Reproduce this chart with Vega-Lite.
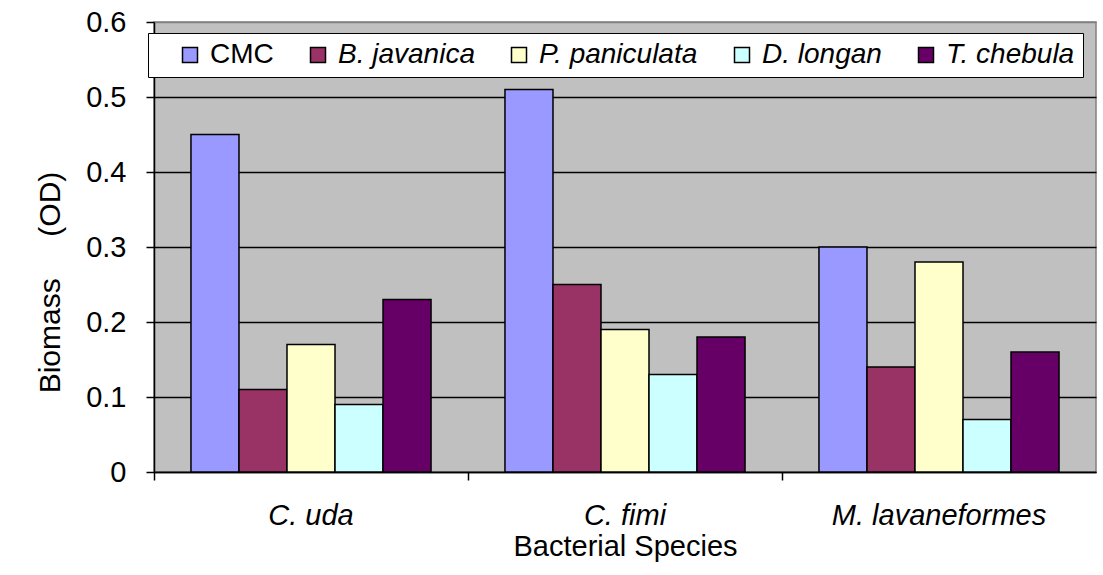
{
  "$schema": "https://vega.github.io/schema/vega-lite/v6.json",
  "width": 942,
  "height": 450,
  "autosize": "none",
  "padding": {"left": 154, "top": 22, "right": 7, "bottom": 103},
  "background": "white",
  "data": {
    "values": [
      {"species": "C. uda", "extract": "CMC", "biomass": 0.45},
      {"species": "C. uda", "extract": "B. javanica", "biomass": 0.11},
      {"species": "C. uda", "extract": "P. paniculata", "biomass": 0.17},
      {"species": "C. uda", "extract": "D. longan", "biomass": 0.09},
      {"species": "C. uda", "extract": "T. chebula", "biomass": 0.23},
      {"species": "C. fimi", "extract": "CMC", "biomass": 0.51},
      {"species": "C. fimi", "extract": "B. javanica", "biomass": 0.25},
      {"species": "C. fimi", "extract": "P. paniculata", "biomass": 0.19},
      {"species": "C. fimi", "extract": "D. longan", "biomass": 0.13},
      {"species": "C. fimi", "extract": "T. chebula", "biomass": 0.18},
      {"species": "M. lavaneformes", "extract": "CMC", "biomass": 0.30},
      {"species": "M. lavaneformes", "extract": "B. javanica", "biomass": 0.14},
      {"species": "M. lavaneformes", "extract": "P. paniculata", "biomass": 0.28},
      {"species": "M. lavaneformes", "extract": "D. longan", "biomass": 0.07},
      {"species": "M. lavaneformes", "extract": "T. chebula", "biomass": 0.16}
    ]
  },
  "mark": {"type": "bar", "stroke": "black", "strokeWidth": 1.5},
  "encoding": {
    "x": {
      "field": "species",
      "type": "nominal",
      "sort": ["C. uda", "C. fimi", "M. lavaneformes"],
      "scale": {"paddingInner": 0, "paddingOuter": 0},
      "axis": {
        "title": "Bacterial Species",
        "labelAngle": 0,
        "bandPosition": 0,
        "labelFontStyle": "italic",
        "labelFontSize": 29,
        "labelPadding": 21,
        "labelLimit": 500,
        "titleFontSize": 29,
        "titlePadding": 2,
        "tickSize": 8
      }
    },
    "xOffset": {
      "field": "extract",
      "type": "nominal",
      "sort": ["CMC", "B. javanica", "P. paniculata", "D. longan", "T. chebula"],
      "scale": {"paddingInner": 0, "paddingOuter": 0.77}
    },
    "y": {
      "field": "biomass",
      "type": "quantitative",
      "scale": {"domain": [0, 0.6]},
      "axis": {
        "title": "Biomass\u00a0\u00a0\u00a0\u00a0\u00a0(OD)",
        "values": [0, 0.1, 0.2, 0.3, 0.4, 0.5, 0.6],
        "labelExpr": "datum.value == 0 ? '0' : format(datum.value, '.1f')",
        "labelFontSize": 29,
        "labelPadding": 20,
        "tickSize": 8,
        "titleFontSize": 30,
        "titleX": -104,
        "titleY": 260,
        "titleBaseline": "middle",
        "titleAlign": "center",
        "gridColor": {"condition": {"test": "datum.value >= 0.6", "value": "#808080"}, "value": "black"},
        "gridWidth": 1.5
      }
    },
    "color": {
      "field": "extract",
      "type": "nominal",
      "sort": ["CMC", "B. javanica", "P. paniculata", "D. longan", "T. chebula"],
      "scale": {
        "domain": ["CMC", "B. javanica", "P. paniculata", "D. longan", "T. chebula"],
        "range": ["#9999FF", "#993366", "#FFFFCC", "#CCFFFF", "#660066"]
      },
      "legend": {
        "orient": "none",
        "legendX": -6,
        "legendY": 11,
        "direction": "horizontal",
        "title": "\u00a0",
        "titleOrient": "left",
        "titleFontSize": 10,
        "titlePadding": 20,
        "fillColor": "white",
        "strokeColor": "black",
        "padding": 8,
        "symbolType": "square",
        "symbolSize": 225,
        "symbolStrokeColor": "black",
        "symbolStrokeWidth": 1.5,
        "symbolOpacity": 1,
        "labelFontSize": 28,
        "labelOffset": 6,
        "columnPadding": 30,
        "labelLimit": 400,
        "labelExpr": "datum.label == 'T. chebula' ? 'T. chebula\u00a0\u00a0\u00a0\u00a0\u00a0' : datum.label",
        "encode": {
          "labels": {"update": {"fontStyle": {"signal": "datum.label === 'CMC' ? 'normal' : 'italic'"}}}
        }
      }
    }
  },
  "config": {
    "font": "Liberation Sans",
    "view": {"fill": "#C0C0C0", "stroke": "#808080", "strokeWidth": 1.5},
    "axis": {
      "domainColor": "black",
      "domainWidth": 1.5,
      "tickColor": "black",
      "tickWidth": 1.5,
      "labelColor": "black",
      "titleColor": "black",
      "titleFontWeight": "normal",
      "labelFont": "Liberation Sans",
      "titleFont": "Liberation Sans"
    },
    "axisX": {"grid": false},
    "legend": {"labelColor": "black", "labelFont": "Liberation Sans"}
  }
}
